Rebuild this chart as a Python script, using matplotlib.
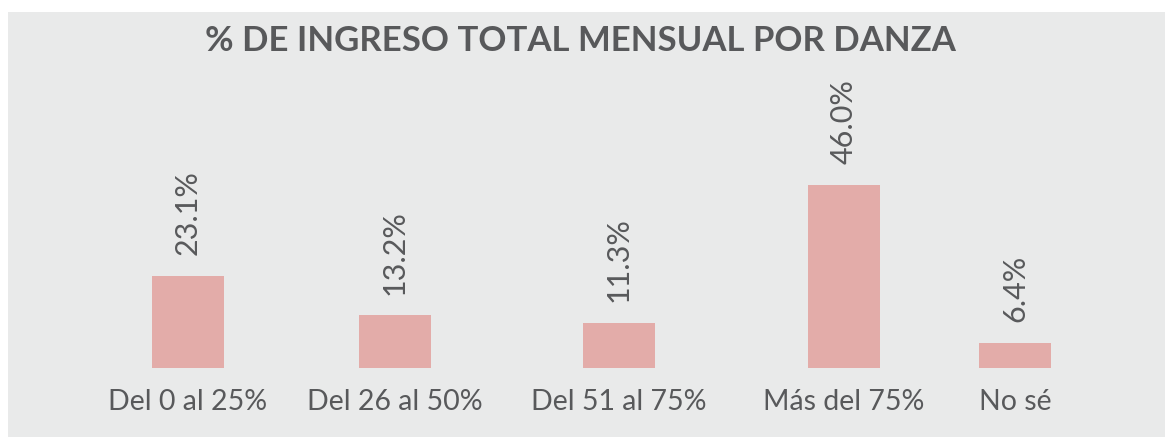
import numpy as np
from matplotlib import pyplot as plt
from matplotlib.patches import Rectangle

plt.rcParams['font.family'] = ['Lato', 'DejaVu Sans']

categories = ['Del 0 al 25%', 'Del 26 al 50%', 'Del 51 al 75%', 'Más del 75%', 'No sé']
values = [23.1, 13.2, 11.3, 46.0, 6.4]
title = '% DE INGRESO TOTAL MENSUAL POR DANZA'

# layout (pixel-ish positions along the panel)
x_pos = [188, 395, 619, 844, 1015]
bar_width = 72

bg_color = '#e9eaea'
bar_color = '#e3aca9'
text_color = '#58595b'

fig = plt.figure(figsize=(11.65, 4.37), dpi=100, facecolor='white')
fig.add_artist(Rectangle((8/1165, 0), 1, 1 - 12/437, transform=fig.transFigure,
                         facecolor=bg_color, edgecolor='none', zorder=-5))

ax = fig.add_axes([0, 69/437, 1, (437 - 12 - 69)/437])
ax.set_facecolor('none')
ax.bar(x_pos, values, width=bar_width, color=bar_color, zorder=2)
ax.set_xlim(0, 1165)
ax.set_ylim(0, 46.0*356/183)

for x, v in zip(x_pos, values):
  ax.annotate('%.1f%%' % v, (x, v), xytext=(0, 15), textcoords='offset points',
              ha='center', va='bottom', rotation=90, fontsize=22, color=text_color)

ax.set_xticks(x_pos)
ax.set_xticklabels(categories, fontsize=20.5, color=text_color)
ax.tick_params(axis='x', length=0, pad=15)
ax.set_yticks([])
for s in ax.spines.values():
  s.set_visible(False)

fig.text(580/1165, 1 - 41/437, title, ha='center', va='center', fontsize=25,
         fontweight='bold', color=text_color)

fig.savefig('out.png', dpi=100, facecolor='white')
